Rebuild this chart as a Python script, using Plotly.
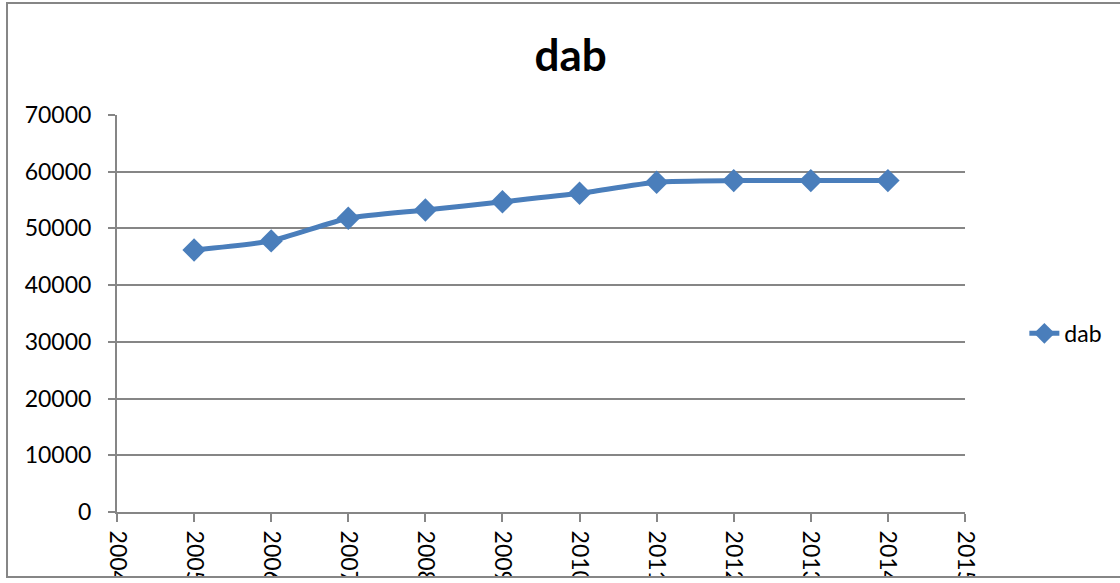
import plotly.graph_objects as go

years = [2005, 2006, 2007, 2008, 2009, 2010, 2011, 2012, 2013, 2014]
dab = [46200, 47800, 51800, 53250, 54700, 56200, 58150, 58430, 58430, 58430]
x_ticks = list(range(2004, 2016))
y_ticks = list(range(0, 70001, 10000))

BLUE = "#4a7ebb"
GRID = "#868686"
FONT = "Lato"

fig = go.Figure()
fig.add_trace(go.Scatter(
    x=years, y=dab, name="dab", mode="lines+markers",
    line=dict(color=BLUE, width=5, shape="spline", smoothing=0.6),
    marker=dict(symbol="diamond", size=18, color=BLUE),
))

fig.update_layout(
    width=1120, height=583,
    margin=dict(l=117, r=155, t=115, b=71),
    paper_bgcolor="white", plot_bgcolor="white",
    font=dict(family=FONT, size=23, color="black"),
    title=dict(text="<b>dab</b>", x=0.535, xref="paper", xanchor="center",
               y=1 - 56 / 583, yref="container", yanchor="middle",
               font=dict(family=FONT, size=44, color="black")),
    showlegend=True,
    legend=dict(x=1.07, xanchor="left", y=0.45, yanchor="middle",
                font=dict(family=FONT, size=23), bgcolor="rgba(0,0,0,0)",
                itemwidth=30),
    xaxis=dict(range=[2004, 2015], tickvals=x_ticks, ticktext=[str(v) for v in x_ticks],
               tickangle=90, showgrid=False, zeroline=False, automargin=False,
               showline=True, linecolor=GRID, linewidth=2,
               ticks="outside", ticklen=8, tickcolor=GRID, tickwidth=2,
               ticklabelstandoff=4,
               tickfont=dict(family=FONT, size=23)),
    yaxis=dict(range=[0, 70000], tickvals=y_ticks, ticktext=[str(v) for v in y_ticks],
               showgrid=True, gridcolor=GRID, gridwidth=1.5, zeroline=False,
               automargin=False,
               showline=True, linecolor=GRID, linewidth=2,
               ticks="outside", ticklen=7, tickcolor=GRID, tickwidth=2,
               ticklabelstandoff=12,
               tickfont=dict(family=FONT, size=23)),
)

# clip below the chart border and draw the chart-area frame
fig.add_shape(type="rect", xref="paper", yref="paper",
              x0=-0.2, x1=1.3, y0=-0.2, y1=-0.1637, layer="above",
              line=dict(width=0), fillcolor="white")
fig.add_shape(type="rect", xref="paper", yref="paper",
              x0=-0.1297, x1=1.2, y0=-0.1637, y1=1.282, layer="above",
              line=dict(color=GRID, width=2), fillcolor="rgba(0,0,0,0)")

fig.write_html("out.html")
